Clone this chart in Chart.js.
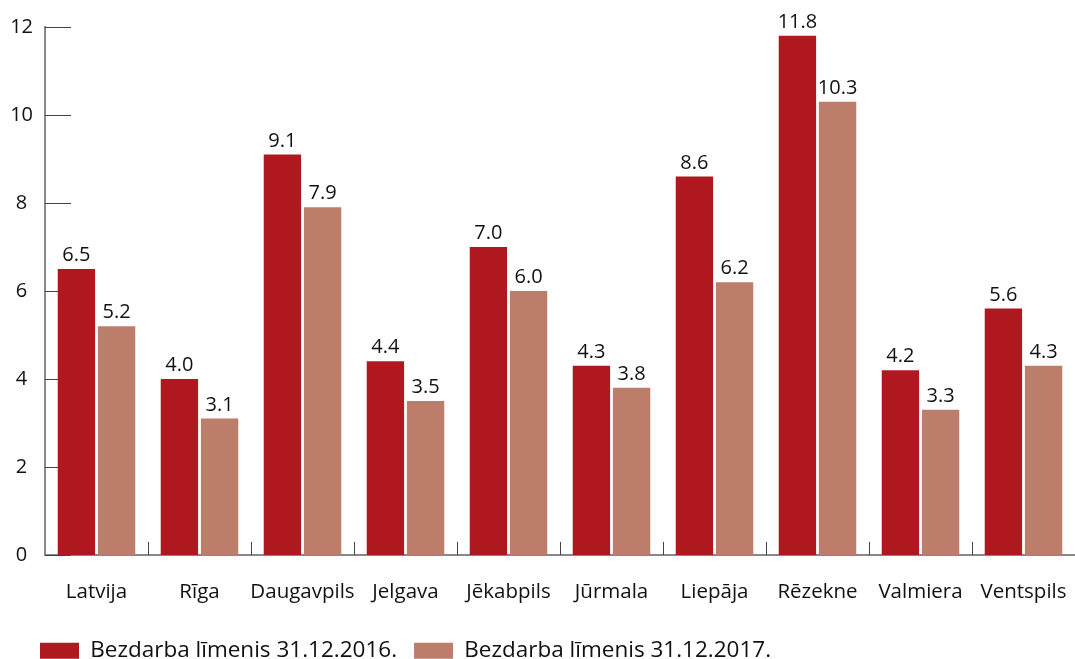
<!DOCTYPE html>
<html>
<head>
<meta charset="utf-8">
<script src="https://cdn.jsdelivr.net/npm/chart.js@4/dist/chart.umd.min.js"></script>
<style>
  html, body { margin: 0; padding: 0; background: #fff; }
  #wrap { width: 1075px; height: 659px; }
</style>
</head>
<body>
<div id="wrap"><canvas id="chart" width="1075" height="659"></canvas></div>
<script>
// Bezdarba līmenis pa pilsētām (%)
const cities = ["Latvija", "Rīga", "Daugavpils", "Jelgava", "Jēkabpils", "Jūrmala", "Liepāja", "Rēzekne", "Valmiera", "Ventspils"]
const rate2016 = [6.5, 4.0, 9.1, 4.4, 7.0, 4.3, 8.6, 11.8, 4.2, 5.6]
const rate2017 = [5.2, 3.1, 7.9, 3.5, 6.0, 3.8, 6.2, 10.3, 3.3, 4.3]
const yTicks = [0, 2, 4, 6, 8, 10, 12]

const FONT = "'Open Sans', sans-serif"

// Short tick marks drawn inside the plot area + value labels above bars
const axisMarks = {
  id: "axisMarks",
  afterLayout(chart) {
    // push the legend in from the left edge, like the original
    chart.legend.left = 23
    chart.legend.top -= 7
  },
  afterDatasetsDraw(chart) {
    const { ctx, chartArea, scales } = chart
    const x = scales.x
    const y = scales.y
    ctx.save()

    // y ticks pointing right
    ctx.strokeStyle = "#444"
    ctx.lineWidth = 1
    yTicks.forEach((v) => {
      const py = Math.round(y.getPixelForValue(v)) + 0.5
      ctx.beginPath()
      ctx.moveTo(chartArea.left, py)
      ctx.lineTo(chartArea.left + 26, py)
      ctx.stroke()
    })

    // category separators pointing up
    for (let i = 1; i < cities.length; i++) {
      const px = Math.round((x.getPixelForValue(i - 1) + x.getPixelForValue(i)) / 2) + 0.5
      ctx.beginPath()
      ctx.moveTo(px, chartArea.bottom)
      ctx.lineTo(px, chartArea.bottom - 13)
      ctx.stroke()
    }

    // value labels
    ctx.fillStyle = "#111"
    ctx.font = "20px " + FONT
    ctx.textAlign = "center"
    ctx.textBaseline = "alphabetic"
    chart.data.datasets.forEach((ds, di) => {
      chart.getDatasetMeta(di).data.forEach((bar, i) => {
        ctx.fillText(ds.data[i].toFixed(1), bar.x, bar.y - 8)
      })
    })
    ctx.restore()
  },
}

const ctx = document.getElementById("chart")

new Chart(ctx, {
  type: "bar",
  data: {
    labels: cities,
    datasets: [
      {
        label: "Bezdarba līmenis 31.12.2016.",
        data: rate2016,
        backgroundColor: "#B0181F",
        categoryPercentage: 0.78,
        barPercentage: 0.93,
      },
      {
        label: "Bezdarba līmenis 31.12.2017.",
        data: rate2017,
        backgroundColor: "#BC7D6B",
        categoryPercentage: 0.78,
        barPercentage: 0.93,
      },
    ],
  },
  options: {
    responsive: false,
    animation: false,
    layout: {
      padding: { top: 27, right: 0, left: 0, bottom: -20 },
    },
    plugins: {
      legend: {
        position: "bottom",
        align: "start",
        labels: {
          boxWidth: 39,
          boxHeight: 16,
          padding: 17,
          color: "#111",
          font: { family: FONT, size: 22.5 },
        },
      },
      tooltip: { enabled: false },
    },
    scales: {
      x: {
        afterFit(scale) {
          scale.paddingLeft = 0
          scale.paddingRight = 0
        },
        grid: { display: false, drawTicks: false },
        border: { color: "#888", width: 2 },
        ticks: {
          color: "#111",
          padding: 25,
          maxRotation: 0,
          autoSkip: false,
          font: { family: FONT, size: 20.5 },
        },
      },
      y: {
        min: 0,
        max: 12,
        afterFit(scale) {
          scale.width = 45
        },
        afterBuildTicks(scale) {
          scale.ticks = yTicks.map((v) => ({ value: v }))
        },
        grid: { display: false, drawTicks: false },
        border: { color: "#888", width: 2 },
        ticks: {
          color: "#111",
          padding: 12,
          crossAlign: "center",
          font: { family: FONT, size: 20 },
        },
      },
    },
  },
  plugins: [axisMarks],
})
</script>
</body>
</html>
